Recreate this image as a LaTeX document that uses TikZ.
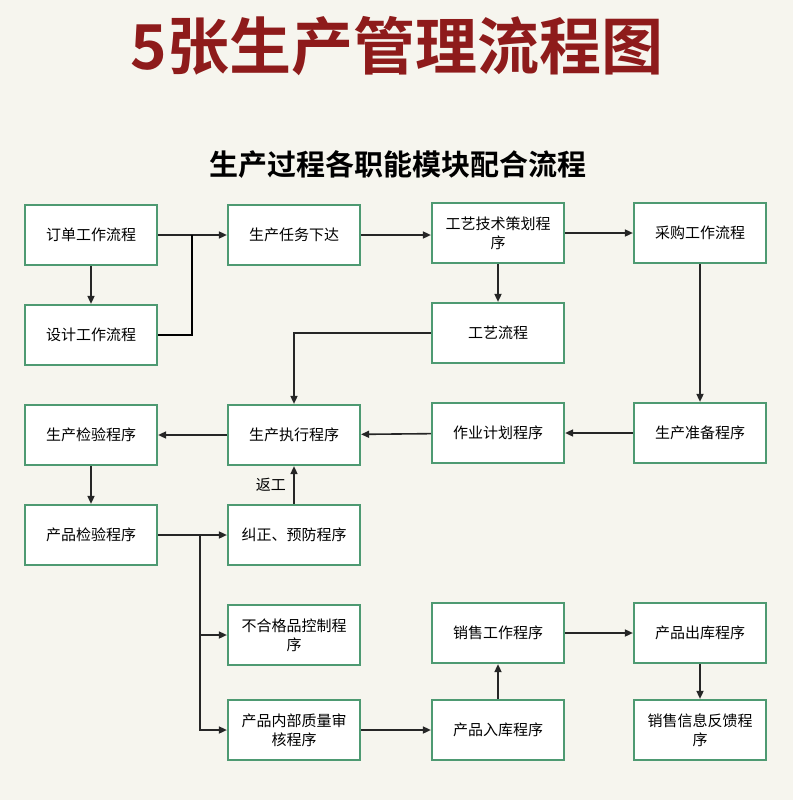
\documentclass[tikz,border=0pt]{standalone}
\usepackage{fontspec}
\setmainfont{Noto Sans CJK SC}
\newfontfamily\cjkbold{Noto Sans CJK SC Bold}
\usetikzlibrary{arrows.meta, positioning}
\definecolor{boxgreen}{HTML}{4E9A72}
\definecolor{titlered}{HTML}{8E1B1B}
\definecolor{paper}{HTML}{F6F5EE}
\begin{document}
\begin{tikzpicture}[
        x=1pt, y=-1pt, >={Triangle[length=8pt,width=7pt]},
        proc/.style={draw=boxgreen, line width=2.2pt, fill=white,
          minimum width=132pt, minimum height=60pt, align=center,
          font=\fontsize{15}{19}\selectfont},
        flow/.style={->, line width=1.6pt, draw=black!85},
        ]
        \fill[paper] (0,0) rectangle (793,800);
        % titles
        \node[text=titlered] (title) at (397,46) {\cjkbold\fontsize{62}{66}\selectfont 5张生产管理流程图};
        \node (sub) at (398,165) {\cjkbold\fontsize{29}{32}\selectfont 生产过程各职能模块配合流程};

        % boxes
        \node[proc] (order)   at (91,235)  {订单工作流程};
        \node[proc] (task)    at (294,235) {生产任务下达};
        \node[proc] (plan)    at (498,233) {工艺技术策划程\\序};
        \node[proc] (buy)     at (700,233) {采购工作流程};
        \node[proc] (design)  at (91,335)  {设计工作流程};
        \node[proc] (craft)   at (498,333) {工艺流程};
        \node[proc] (check)   at (91,435)  {生产检验程序};
        \node[proc] (exec)    at (294,435) {生产执行程序};
        \node[proc] (sched)   at (498,433) {作业计划程序};
        \node[proc] (prep)    at (700,433) {生产准备程序};
        \node[proc] (pcheck)  at (91,535)  {产品检验程序};
        \node[proc] (fix)     at (294,535) {纠正、预防程序};
        \node[proc] (ng)      at (294,635) {不合格品控制程\\序};
        \node[proc] (sale)    at (498,633) {销售工作程序};
        \node[proc] (out)     at (700,633) {产品出库程序};
        \node[proc] (audit)   at (294,730) {产品内部质量审\\核程序};
        \node[proc] (stock)   at (498,730) {产品入库程序};
        \node[proc] (feed)    at (700,730) {销售信息反馈程\\序};

        \coordinate (j1) at (192,235);
        \coordinate (j2) at (200,535);

        % connectors
        \draw[flow] (order) -- (task);
        \draw[flow] (order) -- (design);
        \draw[line width=1.6pt] (design.east) -| (j1);
        \draw[flow] (task) -- (plan.west |- task);
        \draw[flow] (plan) -- (buy);
        \draw[flow] (plan) -- (craft);
        \draw[flow] (craft.west) -| (exec.north);
        \draw[flow] (buy) -- (prep);
        \draw[flow] (prep) -- (sched);
        \draw[flow] (sched) -- (exec);
        \draw[flow] (exec) -- (check);
        \draw[flow] (check) -- (pcheck);
        \draw[flow] (pcheck) -- (fix);
        \draw[flow] (fix) -- node[left=4pt, font=\fontsize{15}{17}\selectfont] {返工} (exec);
        \draw[flow] (j2) |- (ng.west);
        \draw[flow] (j2) |- (audit.west);
        \draw[flow] (audit) -- (stock);
        \draw[flow] (stock) -- (sale);
        \draw[flow] (sale) -- (out);
        \draw[flow] (out) -- (feed);
      \end{tikzpicture}
\end{document}
